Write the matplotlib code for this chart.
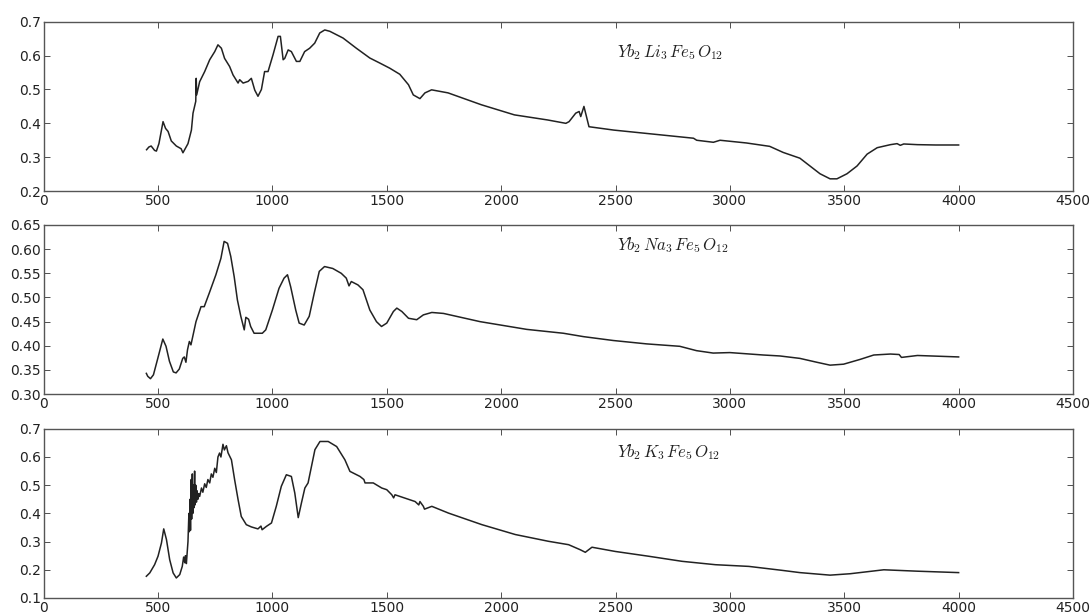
import numpy as np
import matplotlib.pyplot as plt

plt.rcParams['mathtext.fontset'] = 'cm'
plt.rcParams['font.size'] = 10

# Yb2Li3Fe5O12
x_li = [450, 460, 470, 485, 493, 504, 522, 533, 544, 558, 580, 601, 609, 631, 646, 653,
        665, 667, 669, 682, 704, 726, 748, 762, 777, 791, 813, 828, 850, 857, 872, 894,
        908, 923, 937, 952, 966, 981, 1003, 1025, 1035, 1047, 1054, 1069, 1083, 1105, 1120,
        1141, 1163, 1185, 1207, 1229, 1251, 1309, 1367, 1426, 1470, 1513, 1557, 1595, 1616,
        1645, 1667, 1696, 1768, 1913, 2058, 2203, 2283, 2297, 2326, 2341, 2348, 2362, 2384,
        2493, 2638, 2783, 2841, 2855, 2928, 2957, 3072, 3174, 3233, 3306, 3350, 3394, 3438,
        3468, 3512, 3556, 3600, 3644, 3702, 3731, 3745, 3760, 3820, 3900, 4000]
y_li = [0.322, 0.330, 0.333, 0.320, 0.318, 0.340, 0.405, 0.385, 0.376, 0.348, 0.333, 0.325,
        0.313, 0.340, 0.380, 0.430, 0.465, 0.533, 0.484, 0.523, 0.553, 0.588, 0.612, 0.632,
        0.622, 0.592, 0.568, 0.543, 0.519, 0.529, 0.519, 0.524, 0.533, 0.498, 0.480, 0.500,
        0.553, 0.553, 0.603, 0.657, 0.657, 0.588, 0.592, 0.617, 0.612, 0.583, 0.583, 0.612,
        0.622, 0.637, 0.667, 0.676, 0.672, 0.652, 0.622, 0.593, 0.578, 0.563, 0.545, 0.514,
        0.484, 0.473, 0.490, 0.499, 0.490, 0.455, 0.425, 0.410, 0.400, 0.405, 0.430, 0.435,
        0.420, 0.450, 0.390, 0.380, 0.370, 0.360, 0.356, 0.350, 0.344, 0.350, 0.342, 0.332,
        0.314, 0.297, 0.274, 0.251, 0.236, 0.236, 0.251, 0.274, 0.309, 0.328, 0.337, 0.340,
        0.335, 0.339, 0.337, 0.336, 0.336]

# Yb2Na3Fe5O12
x_na = [449, 455, 467, 480, 499, 521, 535, 550, 567, 579, 593, 608, 615, 622, 629, 637, 644,
        666, 688, 702, 724, 753, 775, 789, 804, 818, 833, 847, 862, 877, 884, 896, 905, 920,
        956, 971, 1000, 1029, 1051, 1066, 1080, 1102, 1117, 1139, 1161, 1183, 1205, 1228,
        1264, 1301, 1323, 1335, 1345, 1374, 1396, 1426, 1455, 1477, 1500, 1529, 1544, 1566,
        1595, 1631, 1660, 1697, 1748, 1908, 2112, 2272, 2360, 2490, 2636, 2781, 2854, 2927,
        3000, 3146, 3219, 3306, 3380, 3438, 3497, 3570, 3629, 3702, 3740, 3750, 3820, 4000]
y_na = [0.343, 0.337, 0.332, 0.340, 0.374, 0.414, 0.399, 0.368, 0.346, 0.344, 0.352, 0.374,
        0.377, 0.366, 0.392, 0.409, 0.402, 0.450, 0.481, 0.481, 0.509, 0.547, 0.581, 0.616,
        0.612, 0.585, 0.543, 0.495, 0.461, 0.433, 0.459, 0.455, 0.440, 0.426, 0.426, 0.433,
        0.474, 0.519, 0.540, 0.547, 0.522, 0.474, 0.447, 0.443, 0.461, 0.509, 0.554, 0.564,
        0.560, 0.550, 0.540, 0.524, 0.533, 0.526, 0.516, 0.474, 0.450, 0.440, 0.447, 0.471,
        0.478, 0.471, 0.457, 0.454, 0.464, 0.469, 0.467, 0.450, 0.434, 0.426, 0.419, 0.411,
        0.404, 0.399, 0.390, 0.385, 0.386, 0.381, 0.379, 0.374, 0.366, 0.360, 0.362, 0.372,
        0.381, 0.383, 0.382, 0.376, 0.380, 0.377]

# Yb2K3Fe5O12
x_k = [449, 464, 485, 500, 515, 525, 537, 551, 566, 580, 595, 606, 612, 617, 620, 624, 631,
       635, 637, 640, 642, 645, 647, 650, 652, 655, 657, 660, 662, 665, 668, 671, 674, 678,
       682, 690, 696, 704, 711, 718, 726, 733, 740, 748, 755, 762, 769, 775, 784, 790, 799,
       806, 821, 835, 850, 864, 886, 908, 937, 950, 955, 974, 996, 1017, 1039, 1061, 1083,
       1098, 1113, 1127, 1142, 1156, 1171, 1186, 1208, 1244, 1281, 1317, 1339, 1383, 1400,
       1405, 1441, 1478, 1500, 1522, 1530, 1536, 1580, 1624, 1640, 1645, 1660, 1665, 1697,
       1770, 1916, 2062, 2207, 2295, 2346, 2368, 2397, 2499, 2645, 2791, 2937, 3083, 3228,
       3306, 3438, 3526, 3673, 3820, 4000]
y_k = [0.177, 0.189, 0.218, 0.248, 0.295, 0.345, 0.307, 0.236, 0.189, 0.171, 0.183, 0.212,
       0.245, 0.225, 0.250, 0.222, 0.300, 0.400, 0.335, 0.450, 0.340, 0.520, 0.380, 0.540,
       0.400, 0.500, 0.420, 0.550, 0.430, 0.500, 0.440, 0.480, 0.450, 0.470, 0.460, 0.490,
       0.475, 0.505, 0.492, 0.520, 0.508, 0.540, 0.528, 0.560, 0.545, 0.600, 0.614, 0.600,
       0.645, 0.625, 0.640, 0.615, 0.590, 0.519, 0.449, 0.389, 0.360, 0.352, 0.345, 0.355,
       0.342, 0.354, 0.366, 0.425, 0.496, 0.537, 0.531, 0.472, 0.385, 0.437, 0.490, 0.508,
       0.567, 0.626, 0.655, 0.655, 0.637, 0.590, 0.549, 0.531, 0.520, 0.508, 0.508, 0.490,
       0.484, 0.466, 0.455, 0.466, 0.454, 0.442, 0.430, 0.442, 0.425, 0.415, 0.425, 0.401,
       0.360, 0.325, 0.301, 0.289, 0.271, 0.262, 0.280, 0.265, 0.248, 0.230, 0.218, 0.212,
       0.198, 0.190, 0.181, 0.186, 0.200, 0.195, 0.190]

labels = [r'$Yb_2\,Li_3\,Fe_5\,O_{12}$', r'$Yb_2\,Na_3\,Fe_5\,O_{12}$', r'$Yb_2\,K_3\,Fe_5\,O_{12}$']
ylims = [(0.2, 0.7), (0.30, 0.65), (0.1, 0.7)]
yticks = [np.arange(0.2, 0.71, 0.1), np.arange(0.30, 0.651, 0.05), np.arange(0.1, 0.71, 0.1)]
yfmt = ['%.1f', '%.2f', '%.1f']
series = [(x_li, y_li), (x_na, y_na), (x_k, y_k)]

fig = plt.figure(figsize=(10.91, 6.13), dpi=100)
bottoms = [0.6884, 0.357, 0.0245]
for i in range(3):
    ax = fig.add_axes([0.040, bottoms[i], 0.9435, 0.276])
    x, y = series[i]
    ax.plot(x, y, color='#222222', lw=1.1)
    ax.set_xlim(0, 4500)
    ax.set_ylim(*ylims[i])
    ax.set_xticks(np.arange(0, 4501, 500))
    ax.set_yticks(yticks[i])
    ax.set_yticklabels([yfmt[i] % v for v in yticks[i]])
    ax.tick_params(direction='in', top=True, right=True, length=4, width=0.6,
                   colors='#333333', labelcolor='#222222', pad=2)
    for s in ax.spines.values():
        s.set_color('#555555')
        s.set_linewidth(1.0)
    ax.text(0.557, [0.82, 0.88, 0.86][i], labels[i], transform=ax.transAxes,
            fontsize=12, va='center', ha='left', color='#222222')

fig.savefig('out.png', dpi=100)
